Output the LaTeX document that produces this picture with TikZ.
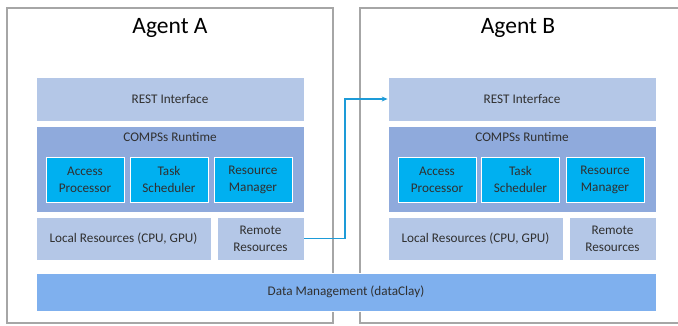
\documentclass[tikz,border=0pt]{standalone}
\usepackage{fontspec}
\setmainfont{Carlito}
\usetikzlibrary{arrows.meta}
\definecolor{restc}{HTML}{B4C7E7}
\definecolor{compc}{HTML}{8FAADC}
\definecolor{innc}{HTML}{00B0F0}
\definecolor{datac}{HTML}{7FB0EE}
\definecolor{arrc}{HTML}{1D9BD8}
\definecolor{bordc}{HTML}{A6A6A6}
\definecolor{txtc}{HTML}{303030}
\tikzset{
  blk/.style={draw=white, line width=0.8pt, inner sep=0pt, align=center, font=\fontsize{13.2}{17}\selectfont, text=txtc},
  lbl/.style={inner sep=0pt, align=center, font=\fontsize{13.2}{17}\selectfont, text=txtc},
  agent/.style={draw=bordc, line width=1.3pt},
  title/.style={font=\fontsize{23.5}{27}\selectfont, text=black},
  conn/.style={draw=arrc, line width=1.5pt, -{Stealth[length=6pt,width=5pt]}}
}
\begin{document}
\begin{tikzpicture}[x=1pt,y=-1pt]
\useasboundingbox (0,0) rectangle (678,325);
\clip (0,0) rectangle (678,325);
\fill[white] (0,0) rectangle (678,325);
% agent frames
\draw[agent] (7,8) rectangle (333,323);
\draw[agent] (360,8) rectangle (690,323);
\node[title] (ta) at (170,28) {Agent A};
\node[title] (tb) at (518,28) {Agent B};
% Agent A
\node[blk, fill=restc, minimum width=268, minimum height=44] (restA) at (170,99) {REST Interface};
\node[blk, fill=compc, minimum width=268, minimum height=86] (compA) at (170,169) {};
\node[lbl] (compAt) at (170,137) {COMPSs Runtime};
\node[blk, fill=innc, minimum width=78, minimum height=45] (apA) at (85,179.5) {Access\\Processor};
\node[blk, fill=innc, minimum width=78, minimum height=45] (tsA) at (169,179.5) {Task\\Scheduler};
\node[blk, fill=innc, minimum width=78, minimum height=45] (rmA) at (253,179.5) {Resource\\Manager};
\node[blk, fill=restc, minimum width=175, minimum height=43] (lrA) at (123.5,238.5) {Local Resources (CPU, GPU)};
\node[blk, fill=restc, minimum width=87, minimum height=43] (rrA) at (260.5,238.5) {Remote\\Resources};
% Agent B
\node[blk, fill=restc, minimum width=268, minimum height=44] (restB) at (522,99) {REST Interface};
\node[blk, fill=compc, minimum width=268, minimum height=86] (compB) at (522,169) {};
\node[lbl] (compBt) at (522,137) {COMPSs Runtime};
\node[blk, fill=innc, minimum width=78, minimum height=45] (apB) at (437,179.5) {Access\\Processor};
\node[blk, fill=innc, minimum width=78, minimum height=45] (tsB) at (520.5,179.5) {Task\\Scheduler};
\node[blk, fill=innc, minimum width=78, minimum height=45] (rmB) at (605,179.5) {Resource\\Manager};
\node[blk, fill=restc, minimum width=175, minimum height=43] (lrB) at (475.5,238.5) {Local Resources (CPU, GPU)};
\node[blk, fill=restc, minimum width=87, minimum height=43] (rrB) at (612.5,238.5) {Remote\\Resources};
% data management
\node[blk, fill=datac, minimum width=620, minimum height=38] (dm) at (346,292) {Data Management (dataClay)};
% connector
\coordinate (bend) at (345,238.5);
\draw[conn] (rrA.east) -- (bend) |- (restB.west);
\end{tikzpicture}
\end{document}
